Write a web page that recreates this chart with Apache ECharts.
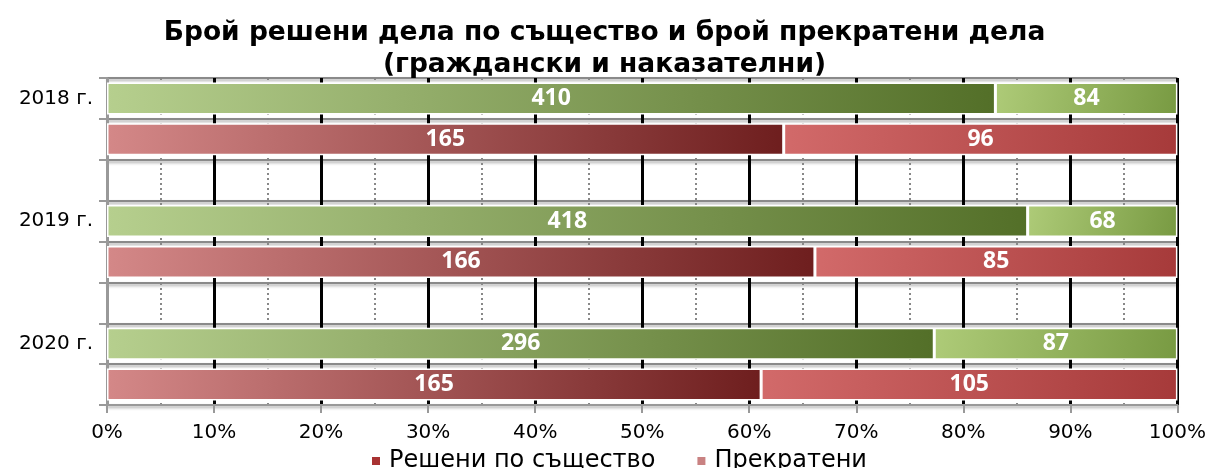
<!DOCTYPE html>
<html><head><meta charset="utf-8">
<script src="https://cdn.jsdelivr.net/npm/echarts@6/dist/echarts.min.js"></script>
<style>html,body{margin:0;padding:0;background:#fff}#c{width:1209px;height:468px}</style>
</head><body><div id="c"></div>
<script>
const years = ['2018 г.', '2019 г.', '2020 г.'];
const resolvedGreen = [410, 418, 296];
const stoppedGreen = [84, 68, 87];
const resolvedRed = [165, 166, 165];
const stoppedRed = [96, 85, 105];
const xTicks = [0, 10, 20, 30, 40, 50, 60, 70, 80, 90, 100];
const legendNames = ['Решени по същество', 'Прекратени'];

function grad(c1, c2) {
  return new echarts.graphic.LinearGradient(0, 0, 1, 1, [{offset: 0, color: c1}, {offset: 1, color: c2}]);
}
const gDark = grad('#b6cf8e', '#536f28');
const gLight = grad('#aecb78', '#789a42');
const rDark = grad('#d48888', '#6e1e1e');
const rLight = grad('#d26a6a', '#a63a3a');

const rowKeys = [], rowLabels = [], sResolved = [], sStopped = [];
years.forEach((y, i) => {
  const tg = resolvedGreen[i] + stoppedGreen[i];
  const tr = resolvedRed[i] + stoppedRed[i];
  rowKeys.push('g' + i); rowLabels.push(y);
  sResolved.push({value: resolvedGreen[i] / tg * 100, raw: resolvedGreen[i], itemStyle: {color: gDark}});
  sStopped.push({value: stoppedGreen[i] / tg * 100, raw: stoppedGreen[i], itemStyle: {color: gLight}});
  rowKeys.push('r' + i); rowLabels.push('');
  sResolved.push({value: resolvedRed[i] / tr * 100, raw: resolvedRed[i], itemStyle: {color: rDark}});
  sStopped.push({value: stoppedRed[i] / tr * 100, raw: stoppedRed[i], itemStyle: {color: rLight}});
  if (i < years.length - 1) {
    rowKeys.push('e' + i); rowLabels.push('');
    sResolved.push('-'); sStopped.push('-');
  }
});

const label = {
  show: true, position: 'inside', color: '#fff', fontWeight: 'bold',
  fontFamily: 'Open Sans', fontSize: 23,
  formatter: p => p.data.raw
};
const splitColors = xTicks.map((t, i) => i === 0 ? '#999' : '#000');
const chart = echarts.init(document.getElementById('c'), null, {renderer: 'canvas'});
chart.setOption({
  animation: false,
  title: {
    text: 'Брой решени дела по същество и брой прекратени дела\n(граждански и наказателни)',
    left: 'center', top: 12,
    textStyle: {fontFamily: 'DejaVu Sans', fontWeight: 'bold', fontSize: 26.5, lineHeight: 32, color: '#000'}
  },
  legend: {
    data: [
      {name: legendNames[0], itemStyle: {color: '#a83232'}},
      {name: legendNames[1], itemStyle: {color: '#c98282'}}
    ],
    top: 444, left: 365, icon: 'rect', itemWidth: 10, itemHeight: 10, itemGap: 40,
    textStyle: {fontFamily: 'DejaVu Sans', fontSize: 24, color: '#000', padding: [0, 0, 0, 3]}
  },
  grid: {left: 107, right: 31, top: 78, bottom: 63, containLabel: false},
  xAxis: {
    type: 'value', min: xTicks[0], max: xTicks[xTicks.length - 1], interval: 10,
    axisLabel: {formatter: '{value}%', fontFamily: 'DejaVu Sans', fontSize: 20, color: '#000', margin: 18},
    axisLine: {show: true, lineStyle: {color: '#999', width: 2}},
    axisTick: {show: true, length: 8, lineStyle: {color: '#999', width: 2}},
    splitLine: {show: true, lineStyle: {color: splitColors, width: 3}},
    minorTick: {show: false, splitNumber: 2},
    minorSplitLine: {show: true, lineStyle: {color: '#888', width: 2, type: [2, 3]}}
  },
  yAxis: {
    type: 'category', inverse: true, data: rowKeys,
    axisLabel: {formatter: (v, i) => rowLabels[i], fontFamily: 'DejaVu Sans', fontSize: 20, color: '#000', margin: 14},
    axisLine: {show: true, lineStyle: {color: '#999', width: 2}},
    axisTick: {show: true, length: 8, lineStyle: {color: '#999', width: 2}},
    splitLine: {show: true, lineStyle: {color: '#8a8a8a', width: 2, shadowBlur: 3, shadowColor: 'rgba(0,0,0,0.35)', shadowOffsetY: 2}}
  },
  series: [
    {name: legendNames[0], type: 'bar', stack: 'all', barCategoryGap: '22%', data: sResolved, label: label,
     itemStyle: {color: '#a83232', borderColor: '#fff', borderWidth: 1.5}},
    {name: legendNames[1], type: 'bar', stack: 'all', barCategoryGap: '22%', data: sStopped, label: label,
     itemStyle: {color: '#c98282', borderColor: '#fff', borderWidth: 1.5}}
  ]
});
</script></body></html>
